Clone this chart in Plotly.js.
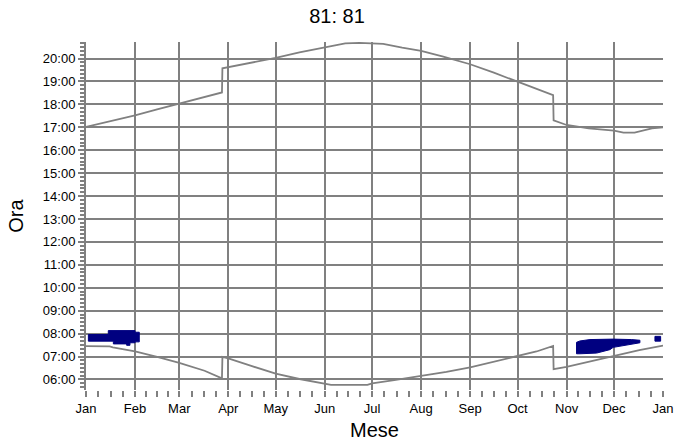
<!DOCTYPE html>
<html>
<head>
<meta charset="utf-8">
<script src="https://cdn.plot.ly/plotly-3.0.1.min.js"></script>
<style>html,body{margin:0;padding:0;background:#fff;}#chart{width:674px;height:448px;}</style>
</head>
<body>
<div id="chart"></div>
<script>
// Month start positions (day of year) and labels
var monthStarts = [0, 31, 59, 90, 120, 151, 181, 212, 243, 273, 304, 334, 365];
var monthLabels = ["Jan","Feb","Mar","Apr","May","Jun","Jul","Aug","Sep","Oct","Nov","Dec","Jan"];

// Y ticks (hours)
var hourTicks = [6,7,8,9,10,11,12,13,14,15,16,17,18,19,20];
var hourLabels = ["06:00","07:00","08:00","09:00","10:00","11:00","12:00","13:00","14:00","15:00","16:00","17:00","18:00","19:00","20:00"];

// Sunset curve (day of year, decimal hour)
var sunsetDay  = [0, 15, 31, 45, 59, 75, 86, 86.3, 90, 105, 120, 135, 151, 164, 173, 188, 200, 212, 226, 243, 258, 273, 280, 295.5, 295.8, 304, 318, 334, 340, 347, 358, 365];
var sunsetHour = [17.02, 17.25, 17.52, 17.78, 18.03, 18.33, 18.52, 19.57, 19.62, 19.83, 20.03, 20.27, 20.48, 20.66, 20.68, 20.64, 20.47, 20.33, 20.08, 19.75, 19.38, 18.98, 18.78, 18.40, 17.30, 17.10, 16.95, 16.85, 16.77, 16.77, 16.95, 17.0];

// Sunrise curve
var sunriseDay  = [0, 15, 17, 31, 45, 59, 75, 86, 86.3, 90, 105, 120, 135, 145, 155, 178, 181, 195, 212, 228, 243, 258, 273, 285, 295.5, 295.8, 304, 320, 334, 350, 365];
var sunriseHour = [7.45, 7.44, 7.40, 7.23, 6.98, 6.72, 6.38, 6.05, 6.98, 6.92, 6.58, 6.25, 6.02, 5.88, 5.76, 5.76, 5.83, 5.97, 6.14, 6.33, 6.53, 6.78, 7.01, 7.22, 7.46, 6.45, 6.55, 6.80, 7.04, 7.28, 7.48];

// Shaded regions (polygons: day, hour)
var patch1Day  = [1.5, 14.1, 14.1, 31, 31, 33.7, 33.7, 31, 31, 27.8, 27.8, 25.7, 25.7, 17.3, 17.3, 1.5, 1.5];
var patch1Hour = [7.96, 7.96, 8.13, 8.13, 8.06, 8.06, 7.64, 7.64, 7.60, 7.60, 7.49, 7.49, 7.55, 7.55, 7.67, 7.67, 7.96];
var patch2Day  = [310.3, 312.5, 318.8, 333.5, 345, 350.4, 350.4, 335.7, 333.5, 331.4, 323, 312.5, 310.3, 310.3];
var patch2Hour = [7.62, 7.68, 7.74, 7.76, 7.74, 7.71, 7.60, 7.43, 7.40, 7.30, 7.15, 7.12, 7.12, 7.62];
var patch3Day  = [359.9, 363.5, 363.5, 359.9, 359.9];
var patch3Hour = [7.88, 7.88, 7.67, 7.67, 7.88];

// Minor x ticks: quarter-month positions
var minorX = [];
for (var i = 0; i < monthStarts.length - 1; i++) {
  var a = monthStarts[i], b = monthStarts[i+1];
  for (var k = 1; k < 4; k++) minorX.push(a + (b - a) * k / 4);
}

var grey = "#808080";
var navy = "#000080";
var font = "Liberation Sans, Arial, sans-serif";

var traces = [
  {x: patch1Day, y: patch1Hour, type: "scatter", mode: "lines", fill: "toself", fillcolor: navy, line: {color: navy, width: 1}, hoverinfo: "skip"},
  {x: patch2Day, y: patch2Hour, type: "scatter", mode: "lines", fill: "toself", fillcolor: navy, line: {color: navy, width: 1}, hoverinfo: "skip"},
  {x: patch3Day, y: patch3Hour, type: "scatter", mode: "lines", fill: "toself", fillcolor: navy, line: {color: navy, width: 1}, hoverinfo: "skip"},
  {x: sunsetDay, y: sunsetHour, type: "scatter", mode: "lines", line: {color: grey, width: 1.8}, hoverinfo: "skip"},
  {x: sunriseDay, y: sunriseHour, type: "scatter", mode: "lines", line: {color: grey, width: 1.8}, hoverinfo: "skip"}
];

var layout = {
  width: 674, height: 448,
  margin: {l: 86, r: 11, t: 42, b: 58},
  paper_bgcolor: "#fff", plot_bgcolor: "#fff",
  showlegend: false,
  font: {family: font, color: "#000", size: 13},
  title: {text: "81: 81", font: {family: font, size: 20, color: "#000"}, x: 0.5, xref: "container", xanchor: "center", y: 0.965, yref: "container", yanchor: "middle"},
  xaxis: {
    range: [0, 365], fixedrange: true,
    tickmode: "array", tickvals: monthStarts, ticktext: monthLabels,
    showgrid: true, gridcolor: grey, gridwidth: 2,
    ticks: "outside", ticklen: 6, tickwidth: 2, tickcolor: grey,
    showline: false, zeroline: false,
    tickfont: {family: font, size: 13, color: "#000"},
    minor: {tickmode: "array", tickvals: minorX, ticks: "outside", ticklen: 6, tickwidth: 2, tickcolor: grey, showgrid: false},
    title: {text: "Mese", font: {family: font, size: 20, color: "#000"}, standoff: 8}
  },
  yaxis: {
    range: [5.54, 20.72], fixedrange: true,
    tickmode: "array", tickvals: hourTicks, ticktext: hourLabels,
    showgrid: true, gridcolor: grey, gridwidth: 2,
    ticks: "outside", ticklen: 6, tickwidth: 2, tickcolor: grey,
    showline: true, linecolor: grey, linewidth: 2, zeroline: false,
    tickfont: {family: font, size: 13, color: "#000"},
    minor: {tickmode: "linear", tick0: 0, dtick: 1/6, ticks: "outside", ticklen: 4, tickwidth: 2, tickcolor: grey, showgrid: false},
    title: {text: "Ora", font: {family: font, size: 20, color: "#000"}, standoff: 14}
  }
};

Plotly.newPlot("chart", traces, layout, {displayModeBar: false, staticPlot: true});
</script>
</body>
</html>
